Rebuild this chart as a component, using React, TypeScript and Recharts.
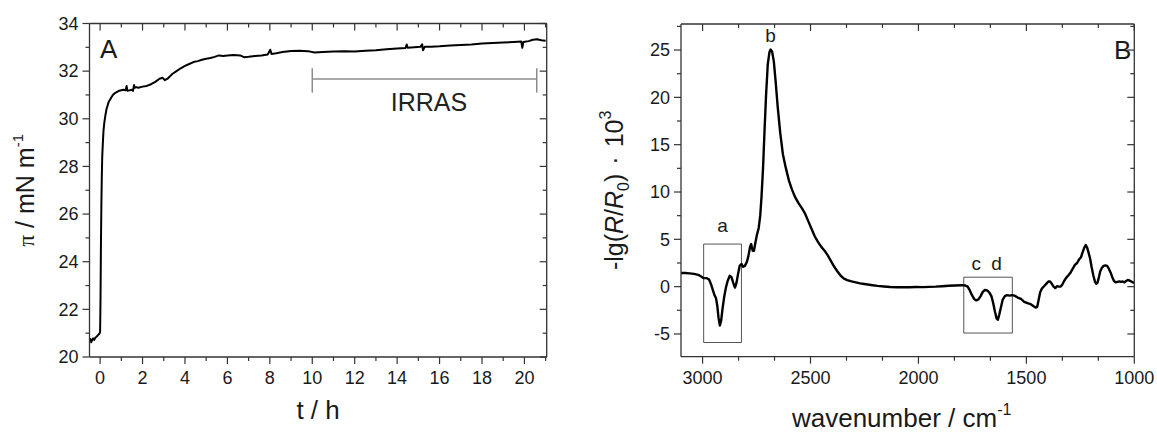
import React from 'react';
import { LineChart, Line, XAxis, YAxis, ReferenceLine, ReferenceArea, ReferenceDot } from 'recharts';

const FONT = '"Liberation Sans", Arial, Helvetica, sans-serif';
const INK = '#1a1a1a';
const AXIS = '#333333';

// ---------- Panel A : surface pressure vs time ----------
const timeH = [
  -0.48, -0.45, -0.42, -0.38, -0.33, -0.28, -0.22, -0.17, -0.12, -0.07, -0.03, 0.0,
  0.02, 0.04, 0.06, 0.08, 0.1, 0.13, 0.16, 0.2, 0.25, 0.3, 0.35, 0.4, 0.5, 0.6, 0.7,
  0.8, 0.9, 1.0, 1.1, 1.2, 1.25, 1.28, 1.4, 1.5, 1.55, 1.6, 1.63, 1.7, 1.8, 2.0, 2.2,
  2.4, 2.6, 2.8, 2.95, 3.05, 3.2, 3.4, 3.6, 3.8, 4.0, 4.2, 4.4, 4.6, 4.8, 5.0, 5.2,
  5.4, 5.6, 5.8, 6.0, 6.3, 6.6, 6.8, 7.0, 7.3, 7.6, 7.9, 8.02, 8.08, 8.3, 8.6, 9.0,
  9.4, 9.8, 10.1, 10.5, 11.0, 11.5, 12.0, 12.5, 13.0, 13.5, 14.0, 14.4, 14.45, 14.5,
  14.8, 15.1, 15.18, 15.22, 15.3, 15.6, 16.0, 16.5, 17.0, 17.5, 18.0, 18.5, 19.0,
  19.5, 19.85, 19.9, 19.95, 20.2, 20.4, 20.6, 20.8, 21.0,
];
const surfacePressure = [
  20.65, 20.75, 20.62, 20.7, 20.78, 20.72, 20.82, 20.85, 20.9, 20.95, 20.98, 21.05,
  22.5, 24.8, 26.4, 27.6, 28.4, 29.0, 29.5, 29.85, 30.15, 30.4, 30.55, 30.7, 30.85, 31.0, 31.08,
  31.13, 31.18, 31.2, 31.22, 31.2, 31.38, 31.18, 31.2, 31.22, 31.17, 31.42, 31.3, 31.33, 31.3, 31.35, 31.38,
  31.45, 31.55, 31.68, 31.72, 31.62, 31.7, 31.88, 32.0, 32.12, 32.22, 32.3, 32.38, 32.42, 32.48, 32.52, 32.55,
  32.6, 32.66, 32.64, 32.66, 32.68, 32.66, 32.58, 32.6, 32.64, 32.66, 32.7, 32.9, 32.72, 32.75, 32.8, 32.85,
  32.86, 32.84, 32.78, 32.8, 32.82, 32.84, 32.82, 32.86, 32.88, 32.92, 32.95, 32.97, 33.12, 32.98,
  33.0, 33.02, 33.13, 32.88, 33.02, 33.02, 33.04, 33.08, 33.1, 33.12, 33.16, 33.18, 33.2,
  33.22, 33.24, 32.98, 33.22, 33.26, 33.32, 33.34, 33.3, 33.28,
];
const timeMajorTicks = [0, 2, 4, 6, 8, 10, 12, 14, 16, 18, 20];
const timeMinorTicks = [1, 3, 5, 7, 9, 11, 13, 15, 17, 19, 21];
const piMajorTicks = [20, 22, 24, 26, 28, 30, 32, 34];
const piMinorTicks = [21, 23, 25, 27, 29, 31, 33];
const irrasSpan = [10, 20.58];
const irrasLevel = 31.67;
const irrasCap = [31.1, 32.12];
const irrasTextPos = [15.5, 30.33];
const panelAPos = [0.0, 32.55];

// ---------- Panel B : IRRA spectrum ----------
const wavenumber = [
  3100, 3080, 3060, 3040, 3020, 3005, 2995, 2980, 2970, 2960, 2952, 2945, 2938, 2932, 2926, 2920,
  2914, 2908, 2900, 2892, 2884, 2874, 2866, 2858, 2850, 2843, 2836, 2828, 2820, 2812, 2804, 2795,
  2788, 2780, 2775, 2768, 2762, 2755, 2748, 2740, 2733, 2727, 2720, 2713, 2706, 2698, 2690, 2685,
  2678, 2670, 2662, 2652, 2640, 2628, 2615, 2600, 2585, 2570, 2555, 2540, 2525, 2510, 2495, 2480,
  2465, 2450, 2435, 2420, 2405, 2390, 2375, 2360, 2345, 2330, 2310, 2290, 2270, 2250, 2220, 2190,
  2160, 2130, 2100, 2070, 2040, 2010, 1980, 1950, 1920, 1890, 1860, 1830, 1800, 1785, 1772, 1762,
  1752, 1742, 1732, 1722, 1712, 1702, 1692, 1682, 1672, 1662, 1654, 1646, 1638, 1632, 1626, 1618,
  1610, 1600, 1590, 1578, 1566, 1555, 1540, 1525, 1510, 1495, 1480, 1468, 1458, 1450, 1444, 1436,
  1428, 1418, 1408, 1398, 1390, 1382, 1374, 1366, 1358, 1350, 1342, 1334, 1325, 1315, 1305, 1295,
  1285, 1275, 1265, 1255, 1247, 1240, 1232, 1225, 1218, 1212, 1205, 1198, 1190, 1182, 1176, 1170,
  1164, 1158, 1150, 1142, 1134, 1126, 1118, 1110, 1102, 1094, 1086, 1078, 1070, 1062, 1054, 1046,
  1038, 1030, 1022, 1014, 1006, 1000,
];
const reflectance = [
  1.45, 1.45, 1.4, 1.35, 1.25, 1.05, 0.9, 0.9, 0.75, 0.2, -0.4, -0.9, -1.2, -2.0, -3.3, -4.1,
  -3.6, -2.4, -1.1, -0.1, 0.6, 1.15, 1.0, 0.4, -0.1, 0.4, 1.3, 2.2, 2.4, 2.1, 2.2, 2.6,
  3.2, 4.2, 4.5, 3.8, 3.8, 4.7, 5.5, 6.2, 7.5, 9.5, 12.5, 16.5, 20.2, 23.5, 24.8, 25.05,
  24.85, 23.8, 21.8, 19.0, 16.2, 14.0, 12.6, 11.2, 10.2, 9.4, 8.8, 8.3, 7.7, 6.9, 6.1, 5.3,
  4.7, 4.2, 3.8, 3.3, 2.7, 2.1, 1.6, 1.15, 0.85, 0.7, 0.55, 0.45, 0.35, 0.28, 0.18, 0.08,
  0.02, -0.03, -0.06, -0.05, -0.07, -0.04, -0.05, -0.02, 0.0, 0.05, 0.1, 0.12, 0.15, 0.13, 0.0, -0.4,
  -0.9, -1.3, -1.45, -1.35, -1.0, -0.55, -0.35, -0.4, -0.6, -1.0, -1.7, -2.6, -3.35, -3.5, -3.0, -2.2,
  -1.4, -1.0, -0.9, -0.95, -0.9, -0.95, -1.15, -1.3, -1.6, -1.75, -1.85, -2.05, -2.2, -2.15, -1.5, -0.6,
  -0.2, 0.05, 0.3, 0.55, 0.55, 0.3, 0.0, -0.15, 0.05, 0.0, 0.0, 0.2, 0.6, 0.95, 1.2, 1.5,
  1.9, 2.3, 2.5, 2.9, 3.1, 3.6, 4.1, 4.4, 4.1, 3.6, 3.0, 2.1, 1.2, 0.5, 0.3, 0.45,
  1.0, 1.6, 2.0, 2.2, 2.25, 2.2, 1.9, 1.5, 1.0, 0.6, 0.45, 0.5, 0.55, 0.5, 0.55, 0.45,
  0.6, 0.7, 0.65, 0.55, 0.45, 0.4,
];
const wnMajorTicks = [3000, 2500, 2000, 1500, 1000];
const wnMinorTicks = [2833.333, 2666.667, 2333.333, 2166.667, 1833.333, 1666.667, 1333.333, 1166.667];
const refMajorTicks = [-5, 0, 5, 10, 15, 20, 25];
const refMinorTicks = [-2.5, 2.5, 7.5, 12.5, 17.5, 22.5, 27.5];
const boxAX = [2995, 2820];
const boxAY = [-5.9, 4.5];
const boxCDX = [1790, 1565];
const boxCDY = [-4.9, 1.0];
const peakNames = ['a', 'b', 'c', 'd'];
const peakX = [2907, 2685, 1732, 1638];
const peakY = [5.8, 25.9, 1.8, 1.8];
const panelBPos = [1094, 24.0];

const isothermData = timeH.map((t, i) => ({ t, pi: surfacePressure[i] }));
const spectrumData = wavenumber.map((w, i) => ({ w, r: reflectance[i] }));

const sortNum = (a: number[]) => [...a].sort((p, q) => p - q);

// variant: 'path' draws tick marks as paths, 'none' draws only labels
function makeTick(side: 'bottom' | 'left' | 'top' | 'right', majors: number[], withLabel: boolean, marks: boolean) {
  return (props: any) => {
    const { x, y, payload } = props;
    const v = Number(payload && payload.value);
    const major = majors.some((m) => Math.abs(m - v) < 1e-6);
    const len = major ? 7 : 4;
    let d = '';
    let label: any = null;
    if (side === 'bottom') {
      d = `M${x},${y}V${y + len}`;
      if (withLabel && major)
        label = (
          <text x={x} y={y + 27} textAnchor="middle" fontSize={18} fontFamily={FONT} fill={INK}>
            {v}
          </text>
        );
    } else if (side === 'left') {
      d = `M${x},${y}H${x - len}`;
      if (withLabel && major)
        label = (
          <text x={x - 11} y={y} dy="0.35em" textAnchor="end" fontSize={18} fontFamily={FONT} fill={INK}>
            {v}
          </text>
        );
    } else if (side === 'top') {
      d = `M${x},${y}V${y + len}`;
    } else {
      d = `M${x},${y}H${x - len}`;
    }
    return (
      <g>
        {marks ? <path d={d} style={{ stroke: AXIS, strokeWidth: 1.2, fill: 'none' }} /> : null}
        {label}
      </g>
    );
  };
}

function textLabel(text: string, size: number, anchor: string, fill = INK) {
  return (p: any) => {
    const vb = p.viewBox || {};
    return (
      <text x={vb.x} y={vb.y} textAnchor={anchor} fontSize={size} fontFamily={FONT} fill={fill}>
        {text}
      </text>
    );
  };
}

const commonAxis = {
  type: 'number' as const,
  allowDataOverflow: true,
  interval: 0 as const,
  tickSize: 0,
  tickMargin: 0,
  stroke: AXIS,
  strokeWidth: 1.3,
};

export default function App() {
  return (
    <div
      style={{
        position: 'absolute',
        left: 0,
        top: 0,
        width: 1157,
        height: 432,
        background: '#fff',
        display: 'flex',
        fontFamily: FONT,
      }}
    >
      {/* Panel A */}
      <LineChart
        width={580}
        height={432}
        data={isothermData}
        margin={{ top: 22.5, right: 32.3, bottom: 25, left: 29.5 }}
      >
        <XAxis
          {...commonAxis}
          dataKey="t"
          domain={[-0.5, 21.05]}
          ticks={sortNum([...timeMajorTicks, ...timeMinorTicks])}
          tick={makeTick('bottom', timeMajorTicks, true, true)}
          height={50}
          label={(p: any) => {
            const vb = p.viewBox || {};
            return (
              <text x={vb.x + vb.width / 2} y={vb.y + 62} textAnchor="middle" fontSize={26} fontFamily={FONT} fill={INK}>
                t / h
              </text>
            );
          }}
        />
        <XAxis
          {...commonAxis}
          xAxisId="top"
          orientation="top"
          dataKey="t"
          domain={[-0.5, 21.05]}
          ticks={sortNum([...timeMajorTicks, ...timeMinorTicks])}
          tick={makeTick('top', timeMajorTicks, false, true)}
          height={1}
        />
        <YAxis
          {...commonAxis}
          domain={[20, 34]}
          ticks={sortNum([...piMajorTicks, ...piMinorTicks])}
          tick={makeTick('left', piMajorTicks, true, true)}
          width={60}
          label={(p: any) => {
            const vb = p.viewBox || {};
            const cx = vb.x + vb.width - 56;
            const cy = vb.y + vb.height / 2;
            return (
              <text
                x={cx}
                y={cy}
                transform={`rotate(-90, ${cx}, ${cy})`}
                textAnchor="middle"
                fontSize={25}
                fontFamily={FONT}
                fill={INK}
              >
                <tspan fontFamily='"Liberation Serif", serif' fontSize={23}>π</tspan>
                <tspan>{' / mN m'}</tspan>
                <tspan dy={-11} fontSize={15}>-1</tspan>
              </text>
            );
          }}
        />
        <YAxis
          {...commonAxis}
          yAxisId="right"
          orientation="right"
          domain={[20, 34]}
          ticks={sortNum([...piMajorTicks, ...piMinorTicks])}
          tick={makeTick('right', piMajorTicks, false, true)}
          width={1}
        />
        <ReferenceLine
          segment={[
            { x: irrasSpan[0], y: irrasLevel },
            { x: irrasSpan[1], y: irrasLevel },
          ]}
          stroke="#8c8c8c"
          strokeWidth={1.5}
        />
        <ReferenceLine
          segment={[
            { x: irrasSpan[0], y: irrasCap[0] },
            { x: irrasSpan[0], y: irrasCap[1] },
          ]}
          stroke="#8c8c8c"
          strokeWidth={1.5}
        />
        <ReferenceLine
          segment={[
            { x: irrasSpan[1], y: irrasCap[0] },
            { x: irrasSpan[1], y: irrasCap[1] },
          ]}
          stroke="#8c8c8c"
          strokeWidth={1.5}
        />
        <ReferenceDot
          x={irrasTextPos[0]}
          y={irrasTextPos[1]}
          r={0}
          fill="none"
          stroke="none"
          label={textLabel('IRRAS', 25, 'middle', '#222')}
        />
        <ReferenceDot
          x={panelAPos[0]}
          y={panelAPos[1]}
          r={0}
          fill="none"
          stroke="none"
          label={textLabel('A', 26, 'start')}
        />
        <Line
          type="linear"
          dataKey="pi"
          stroke="#000"
          strokeWidth={2}
          dot={false}
          strokeLinejoin="round"
          isAnimationActive={false}
        />
      </LineChart>

      {/* Panel B */}
      <LineChart
        width={577}
        height={432}
        data={spectrumData}
        margin={{ top: 23, right: 21.7, bottom: 25.3, left: 41 }}
      >
        <XAxis
          {...commonAxis}
          dataKey="w"
          domain={[1000, 3100]}
          reversed
          ticks={sortNum([...wnMajorTicks, ...wnMinorTicks])}
          tick={makeTick('bottom', wnMajorTicks, true, true)}
          height={50}
          label={(p: any) => {
            const vb = p.viewBox || {};
            return (
              <text x={vb.x + vb.width / 2 - 6} y={vb.y + 70} textAnchor="middle" fontSize={26} fontFamily={FONT} fill={INK}>
                <tspan>wavenumber / cm</tspan>
                <tspan dy={-12} fontSize={16}>-1</tspan>
              </text>
            );
          }}
        />
        <XAxis
          {...commonAxis}
          xAxisId="top"
          orientation="top"
          dataKey="w"
          domain={[1000, 3100]}
          reversed
          ticks={sortNum([...wnMajorTicks, ...wnMinorTicks])}
          tick={makeTick('top', wnMajorTicks, false, true)}
          height={1}
        />
        <YAxis
          {...commonAxis}
          domain={[-7.4, 27.75]}
          ticks={sortNum([...refMajorTicks, ...refMinorTicks])}
          tick={makeTick('left', refMajorTicks, true, true)}
          width={60}
          label={(p: any) => {
            const vb = p.viewBox || {};
            const cx = vb.x + vb.width - 58;
            const cy = vb.y + vb.height / 2;
            return (
              <text
                x={cx}
                y={cy}
                transform={`rotate(-90, ${cx}, ${cy})`}
                textAnchor="middle"
                fontSize={25}
                fontFamily={FONT}
                fill={INK}
              >
                <tspan>-lg(</tspan>
                <tspan fontStyle="italic">R</tspan>
                <tspan>/</tspan>
                <tspan fontStyle="italic">R</tspan>
                <tspan dy={6} fontSize={16}>0</tspan>
                <tspan dy={-6}>)</tspan>
                <tspan dx={9}>·</tspan>
                <tspan dx={9}>10</tspan>
                <tspan dy={-12} fontSize={16}>3</tspan>
              </text>
            );
          }}
        />
        <YAxis
          {...commonAxis}
          yAxisId="right"
          orientation="right"
          domain={[-7.4, 27.75]}
          ticks={sortNum([...refMajorTicks, ...refMinorTicks])}
          tick={makeTick('right', refMajorTicks, false, true)}
          width={1}
        />
        <ReferenceArea
          x1={boxAX[0]}
          x2={boxAX[1]}
          y1={boxAY[0]}
          y2={boxAY[1]}
          fill="none"
          fillOpacity={0}
          stroke="#555"
          strokeWidth={1}
        />
        <ReferenceArea
          x1={boxCDX[0]}
          x2={boxCDX[1]}
          y1={boxCDY[0]}
          y2={boxCDY[1]}
          fill="none"
          fillOpacity={0}
          stroke="#555"
          strokeWidth={1}
        />
        {peakNames.map((name, i) => (
          <ReferenceDot
            key={name}
            x={peakX[i]}
            y={peakY[i]}
            r={0}
            fill="none"
            stroke="none"
            label={textLabel(name, 19, 'middle')}
          />
        ))}
        <ReferenceDot
          x={panelBPos[0]}
          y={panelBPos[1]}
          r={0}
          fill="none"
          stroke="none"
          label={textLabel('B', 26, 'start')}
        />
        <Line
          type="linear"
          dataKey="r"
          stroke="#000"
          strokeWidth={2.4}
          dot={false}
          strokeLinejoin="round"
          isAnimationActive={false}
        />
      </LineChart>
    </div>
  );
}
